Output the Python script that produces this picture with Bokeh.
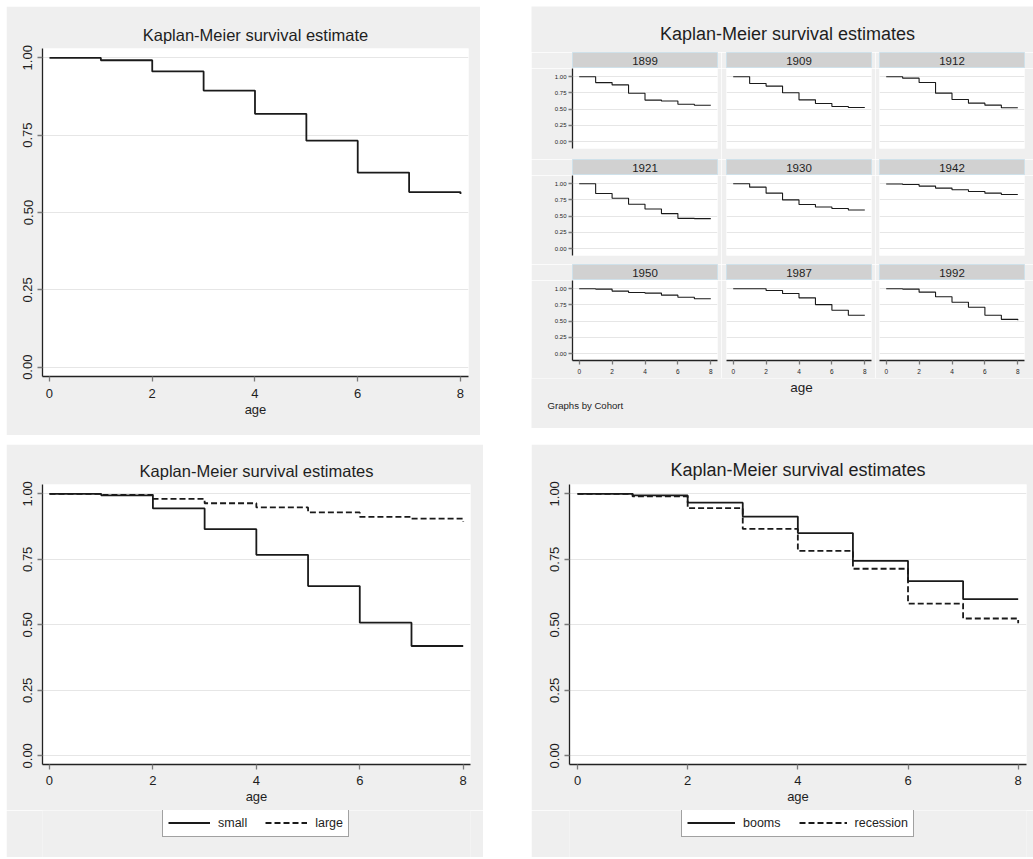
from bokeh.plotting import figure
from bokeh.models import Range1d, FixedTicker, Label, Legend, LegendItem, Spacer, PrintfTickFormatter
from bokeh.layouts import row, column
from bokeh.embed import file_html
from bokeh.resources import INLINE

# ---------------- data ----------------
ages = [0, 1, 2, 3, 4, 5, 6, 7, 8]
x_ticks = [0, 2, 4, 6, 8]
y_ticks = [0.0, 0.25, 0.5, 0.75, 1.0]

surv_all = [1.000, 0.992, 0.956, 0.894, 0.819, 0.732, 0.629, 0.566, 0.560]

cohorts = ["1899", "1909", "1912", "1921", "1930", "1942", "1950", "1987", "1992"]
surv_1899 = [1.000, 0.910, 0.875, 0.745, 0.640, 0.625, 0.575, 0.560, 0.560]
surv_1909 = [1.000, 0.897, 0.856, 0.753, 0.644, 0.588, 0.541, 0.526, 0.526]
surv_1912 = [1.000, 0.979, 0.912, 0.747, 0.649, 0.593, 0.562, 0.521, 0.521]
surv_1921 = [1.000, 0.850, 0.777, 0.684, 0.611, 0.539, 0.466, 0.461, 0.461]
surv_1930 = [1.000, 0.948, 0.855, 0.751, 0.679, 0.642, 0.617, 0.596, 0.596]
surv_1942 = [0.997, 0.990, 0.964, 0.933, 0.907, 0.881, 0.855, 0.834, 0.834]
surv_1950 = [1.000, 0.995, 0.964, 0.943, 0.933, 0.902, 0.870, 0.845, 0.845]
surv_1987 = [1.000, 1.000, 0.974, 0.927, 0.860, 0.756, 0.668, 0.591, 0.591]
surv_1992 = [1.000, 0.995, 0.948, 0.876, 0.793, 0.715, 0.591, 0.528, 0.515]
cohort_surv = [surv_1899, surv_1909, surv_1912, surv_1921, surv_1930,
               surv_1942, surv_1950, surv_1987, surv_1992]

surv_small = [1.000, 0.994, 0.944, 0.865, 0.767, 0.648, 0.508, 0.419, 0.419]
surv_large = [1.000, 0.996, 0.981, 0.964, 0.948, 0.929, 0.912, 0.905, 0.894]
surv_booms = [1.000, 0.994, 0.966, 0.913, 0.850, 0.744, 0.667, 0.598, 0.598]
surv_recession = [1.000, 0.990, 0.945, 0.866, 0.782, 0.714, 0.581, 0.524, 0.506]

# ---------------- style ----------------
FONT = "Liberation Sans"
BG = "#efefef"
LINE = "#1a1a1a"
AXIS = "#222222"
TICK = "#7a7a7a"
GRID = "#e6e6e6"
TEXT = "#1e1e1e"
DASH = "6 3"


def base_fig(w, h, ml, mr, mt, mb, xr, yr, xloc="below", yloc="left"):
    p = figure(width=w, height=h, x_range=Range1d(*xr), y_range=Range1d(*yr),
               output_backend="svg", toolbar_location=None,
               x_axis_location=xloc, y_axis_location=yloc,
               min_border_left=ml, min_border_right=mr,
               min_border_top=mt, min_border_bottom=mb)
    p.background_fill_color = "white"
    p.border_fill_color = BG
    p.outline_line_color = None
    p.xgrid.visible = False
    p.ygrid.ticker = FixedTicker(ticks=y_ticks)
    p.ygrid.grid_line_color = GRID
    p.ygrid.grid_line_width = 1
    return p


def style_axes(p, label_size, tick_out, x_label=None, label_font=None, vertical_y=True,
               x_standoff=7):
    for ax in p.xaxis:
        ax.ticker = FixedTicker(ticks=x_ticks)
        ax.axis_line_color = AXIS
        ax.axis_line_width = 1.3
        ax.major_tick_line_color = TICK
        ax.major_tick_line_width = 1.3
        ax.major_tick_out = tick_out
        ax.major_tick_in = 0
        ax.minor_tick_line_color = None
        ax.major_label_text_font = FONT
        ax.major_label_text_font_size = label_size
        ax.major_label_text_color = TEXT
        ax.major_label_standoff = x_standoff
        if x_label:
            ax.axis_label = x_label
            ax.axis_label_text_font = FONT
            ax.axis_label_text_font_size = label_font
            ax.axis_label_text_font_style = "normal"
            ax.axis_label_text_color = TEXT
            ax.axis_label_standoff = 1
    for ax in p.yaxis:
        ax.ticker = FixedTicker(ticks=y_ticks)
        ax.formatter = PrintfTickFormatter(format="%.2f")
        ax.axis_line_color = AXIS
        ax.axis_line_width = 1.3
        ax.major_tick_line_color = TICK
        ax.major_tick_line_width = 1.3
        ax.major_tick_out = tick_out
        ax.major_tick_in = 0
        ax.minor_tick_line_color = None
        ax.major_label_text_font = FONT
        ax.major_label_text_font_size = label_size
        ax.major_label_text_color = TEXT
        if vertical_y:
            ax.major_label_orientation = "vertical"


def set_title(p, text, size):
    p.title.text = text
    p.title.align = "center"
    p.title.text_font = FONT
    p.title.text_font_size = size
    p.title.text_font_style = "normal"
    p.title.text_color = TEXT
    p.title.standoff = 10


# ---------------- top-left: overall KM ----------------
tl = base_fig(474, 429, 36, 12, 42, 59, (-0.136, 8.156), (-0.030, 1.030))
set_title(tl, "Kaplan-Meier survival estimate", "16.5px")
style_axes(tl, "13px", 5, "age", "13px")
tl.step(ages, surv_all, mode="after", line_color=LINE, line_width=1.8)

# ---------------- top-right: by cohort ----------------
TRW = 502
col_w = [190, 154, 158]
col_ml = [41, 5, 4]
col_mr = [4, 4, 9]
plot_h = [91, 89, 98]
plot_mb = [11, 9, 18]


def text_fig(w, h):
    p = figure(width=w, height=h, x_range=Range1d(0, w), y_range=Range1d(0, h),
               output_backend="svg", toolbar_location=None,
               x_axis_location=None, y_axis_location=None,
               min_border_left=0, min_border_right=0, min_border_top=0, min_border_bottom=0)
    p.background_fill_color = BG
    p.border_fill_color = BG
    p.outline_line_color = None
    p.grid.visible = False
    return p


tr_title = text_fig(TRW, 46)
tr_title.add_layout(Label(x=256, y=19, text="Kaplan-Meier survival estimates",
                          text_align="center", text_baseline="middle",
                          text_font=FONT, text_font_size="18px", text_color=TEXT))

tr_rows = [tr_title]
for r in range(3):
    headers = []
    plots = []
    for c in range(3):
        k = r * 3 + c
        hp = figure(width=col_w[c], height=16, x_range=Range1d(0, 1), y_range=Range1d(0, 1),
                    output_backend="svg", toolbar_location=None,
                    x_axis_location=None, y_axis_location=None,
                    min_border_left=col_ml[c], min_border_right=col_mr[c],
                    min_border_top=0, min_border_bottom=0)
        hp.background_fill_color = "#d1d1d1"
        hp.border_fill_color = BG
        hp.outline_line_color = "#cfe1ea"
        hp.outline_line_width = 1
        hp.grid.visible = False
        hp.add_layout(Label(x=0.5, y=0.5, text=cohorts[k], text_align="center",
                            text_baseline="middle", text_font=FONT,
                            text_font_size="11.5px", text_color=TEXT))
        headers.append(hp)

        sp = base_fig(col_w[c], plot_h[r], col_ml[c], col_mr[c], 0, plot_mb[r],
                      (-0.407, 8.407), (-0.108, 1.128),
                      xloc="below" if r == 2 else None,
                      yloc="left" if c == 0 else None)
        style_axes(sp, "6px", 4, vertical_y=False)
        for ax in sp.yaxis:
            ax.major_label_standoff = 2
        for ax in sp.xaxis:
            ax.major_label_standoff = 4
            ax.major_label_text_font_size = "6.5px"
        sp.step(ages, cohort_surv[k], mode="after", line_color=LINE, line_width=1.1)
        plots.append(sp)
    tr_rows.append(row(*headers, spacing=0))
    tr_rows.append(row(*plots, spacing=0))

tr_foot = text_fig(TRW, 50)
tr_foot.add_layout(Label(x=270, y=41, text="age", text_align="center",
                         text_baseline="middle", text_font=FONT,
                         text_font_size="13.5px", text_color=TEXT))
tr_foot.add_layout(Label(x=16, y=23, text="Graphs by Cohort", text_align="left",
                         text_baseline="middle", text_font=FONT,
                         text_font_size="9.6px", text_color=TEXT))
tr_rows.append(tr_foot)
tr = column(*tr_rows, spacing=0)


# ---------------- bottom panels with legends ----------------
def two_line_panel(w, ml, mr, xr, title, title_size, s1, s2, n1, n2, glyph_w, leg_x):
    p = base_fig(w, 366, ml, mr, 40, 46, xr, (-0.0332, 1.0355))
    set_title(p, title, title_size)
    style_axes(p, "13px", 5, "age", "13px", x_standoff=6)
    p.step(ages, s1, mode="after", line_color=LINE, line_width=1.8)
    p.step(ages, s2, mode="after", line_color=LINE, line_width=1.8, line_dash=DASH)

    # legend strip below the plot (gray, full width)
    lg = figure(width=w, height=47, x_range=Range1d(*xr), y_range=Range1d(0, 1),
                output_backend="svg", toolbar_location=None,
                x_axis_location=None, y_axis_location=None,
                min_border_left=0, min_border_right=0,
                min_border_top=0, min_border_bottom=0)
    lg.background_fill_color = BG
    lg.border_fill_color = BG
    lg.outline_line_color = None
    lg.grid.visible = False
    r1 = lg.step(ages, s1, mode="after", line_color=LINE, line_width=1.8, visible=False)
    r2 = lg.step(ages, s2, mode="after", line_color=LINE, line_width=1.8,
                 line_dash=DASH, visible=False)
    leg = Legend(items=[LegendItem(label=n1, renderers=[r1]),
                        LegendItem(label=n2, renderers=[r2])],
                 orientation="horizontal", location=(leg_x, 20),
                 glyph_width=glyph_w, glyph_height=17, label_standoff=8,
                 spacing=18, padding=5, margin=0,
                 label_text_font=FONT, label_text_font_size="12.5px",
                 label_text_color=TEXT,
                 inactive_fill_alpha=0.0,
                 border_line_color="#444444", border_line_width=1,
                 background_fill_color="white", background_fill_alpha=1)
    lg.add_layout(leg, "center")
    return column(p, lg, spacing=0)


bl = two_line_panel(477, 36, 13, (-0.135, 8.141), "Kaplan-Meier survival estimates",
                    "16.5px", surv_small, surv_large, "small", "large", 42, 120)
br = two_line_panel(502, 38, 7, (-0.1453, 8.151), "Kaplan-Meier survival estimates",
                    "18px", surv_booms, surv_recession, "booms", "recession", 48, 112)

top = row(Spacer(width=6, height=10), tl, Spacer(width=51, height=10), tr, spacing=0)
bottom = row(Spacer(width=6, height=10), bl, Spacer(width=48, height=10), br, spacing=0)
layout = column(Spacer(width=10, height=6), top, Spacer(width=10, height=9), bottom, spacing=0)

open("out.html", "w").write(file_html(layout, INLINE))
